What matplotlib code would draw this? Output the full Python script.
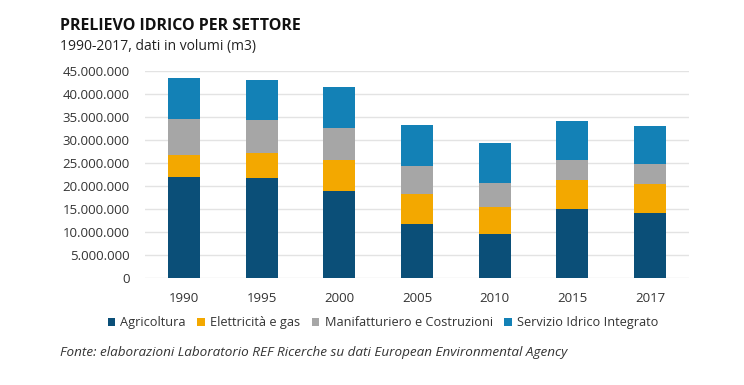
import matplotlib
matplotlib.use("Agg")
import matplotlib.pyplot as plt
import matplotlib.ticker as mticker
import numpy as np

plt.rcParams['font.family'] = ['Open Sans', 'DejaVu Sans']

anni = ['1990', '1995', '2000', '2005', '2010', '2015', '2017']
agricoltura = [22.0, 21.7, 18.8, 11.7, 9.6, 14.9, 14.2]
elettricita = [4.8, 5.5, 6.8, 6.5, 5.8, 6.3, 6.2]
manifatturiero = [7.7, 7.1, 7.0, 6.2, 5.3, 4.4, 4.3]
servizio = [9.0, 8.8, 8.9, 8.8, 8.6, 8.6, 8.3]

serie = [
    ('Agricoltura', agricoltura, '#0b4f78'),
    ('Elettricità e gas', elettricita, '#f3a800'),
    ('Manifatturiero e Costruzioni', manifatturiero, '#a6a6a6'),
    ('Servizio Idrico Integrato', servizio, '#1381b6'),
]

fig = plt.figure(figsize=(7.44, 3.85), dpi=100)
ax = fig.add_axes([0.195, 0.278, 0.731, 0.538])

x = np.arange(len(anni))
base = np.zeros(len(anni))
for nome, valori, colore in serie:
    v = np.array(valori) * 1e6
    ax.bar(x, v, 0.41, bottom=base, color=colore, label=nome, zorder=3)
    base += v

ax.set_xlim(-0.5, len(anni) - 0.5)
ax.set_ylim(0, 45e6)
ax.set_yticks(np.arange(0, 45e6 + 1, 5e6))
ax.yaxis.set_major_formatter(mticker.FuncFormatter(lambda v, p: f'{int(v):,}'.replace(',', '.')))
ax.set_xticks(x)
ax.set_xticklabels(anni)
ax.grid(axis='y', color='#e3e3e3', linewidth=1, zorder=0)
for s in ax.spines.values():
    s.set_visible(False)
ax.tick_params(length=0, labelsize=9.5, colors='#333333')
ax.tick_params(axis='x', pad=10)
ax.tick_params(axis='y', pad=11)

fig.text(0.081, 0.932, 'PRELIEVO IDRICO PER SETTORE', fontsize=11.5, fontweight='bold', color='#111111', va='center')
fig.text(0.081, 0.879, '1990-2017, dati in volumi (m3)', fontsize=10, color='#222222', va='center')

ax.legend(loc='center', bbox_to_anchor=(383 / 744, 0.162), bbox_transform=fig.transFigure,
          ncol=4, frameon=False, fontsize=9.2, handlelength=0.6, handleheight=0.6,
          handletextpad=0.4, columnspacing=0.9, labelcolor='#333333')

fig.text(0.081, 0.084, 'Fonte: elaborazioni Laboratorio REF Ricerche su dati European Environmental Agency',
         fontsize=9.7, style='italic', color='#333333', va='center')

fig.savefig('out.png', dpi=100)
